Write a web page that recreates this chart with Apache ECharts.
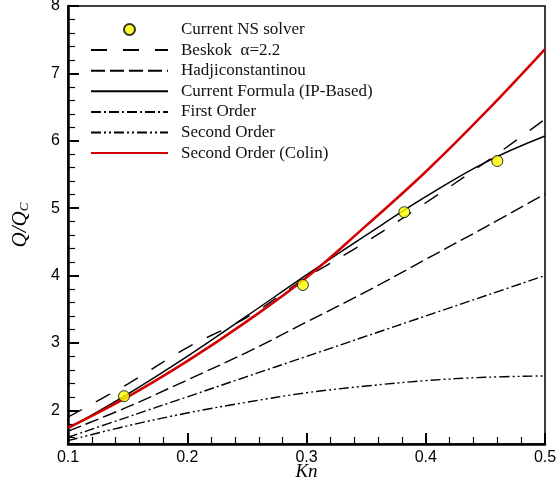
<!DOCTYPE html>
<html>
<head>
<meta charset="utf-8">
<script src="https://cdn.jsdelivr.net/npm/echarts@6/dist/echarts.min.js"></script>
<style>html,body{margin:0;padding:0;background:#fff}#c{width:559px;height:483px}</style>
</head>
<body>
<div id="c"></div>
<script>
var kn = [0.1, 0.15, 0.2, 0.25, 0.3, 0.35, 0.4, 0.45, 0.5];
var beskok = [1.90, 2.39, 2.93, 3.38, 3.97, 4.50, 5.08, 5.68, 6.32];
var hadji = [1.69, 2.05, 2.45, 2.86, 3.31, 3.76, 4.24, 4.72, 5.21];
var currentFormula = [1.73, 2.24, 2.80, 3.40, 4.01, 4.60, 5.17, 5.68, 6.07];
var firstOrder = [1.60, 1.90, 2.20, 2.50, 2.80, 3.10, 3.40, 3.70, 4.00];
var secondOrder = [1.55, 1.77, 1.96, 2.12, 2.26, 2.36, 2.44, 2.49, 2.51];
var colin = [1.74, 2.20, 2.73, 3.32, 3.97, 4.74, 5.54, 6.42, 7.36];
var nsKn = [0.147, 0.297, 0.382, 0.460];
var nsQ = [2.21, 3.86, 4.94, 5.70];
var names = ['Current NS solver', 'Beskok  \u03b1=2.2', 'Hadjiconstantinou', 'Current Formula (IP-Based)', 'First Order', 'Second Order', 'Second Order (Colin)'];

function pairs(xs, ys) { return xs.map(function (x, i) { return [x, ys[i]]; }); }
var clear = 'rgba(0,0,0,0)';
function lineSeries(name, ys, color, width, type) {
  return {
    name: name, type: 'line', data: pairs(kn, ys), symbol: 'none', showSymbol: false,
    smooth: 0.4, z: 3,
    lineStyle: { color: color, width: width, type: type },
    itemStyle: { color: clear, borderColor: clear, borderWidth: 0 }
  };
}
var chart = echarts.init(document.getElementById('c'), null, { renderer: 'canvas' });
var serif = 'Liberation Serif, Times New Roman, serif';
var sans = 'Liberation Sans, Arial, sans-serif';
var legendData = names.map(function (n, i) {
  return i === 0 ? { name: n } : { name: n, itemStyle: { color: clear, borderColor: clear, borderWidth: 0 } };
});
chart.setOption({
  animation: false,
  backgroundColor: '#fff',
  grid: { left: 68, right: 14, top: 6, bottom: 39, show: true, borderColor: '#000', borderWidth: 1.5,
    backgroundColor: 'transparent', containLabel: false, outerBoundsMode: 'none' },
  legend: {
    orient: 'vertical', left: 85, top: 16, padding: 5, itemWidth: 77, itemHeight: 11, itemGap: 3.6,
    textStyle: { fontFamily: serif, fontSize: 17, color: '#111', padding: [0, 0, 0, 8] },
    data: legendData
  },
  xAxis: {
    type: 'value', min: 0.1, max: 0.5, interval: 0.1,
    name: 'Kn', nameLocation: 'middle', nameGap: 18, nameMoveOverlap: false,
    nameTextStyle: { fontFamily: serif, fontStyle: 'italic', fontSize: 19, color: '#000', verticalAlign: 'top' },
    axisLine: { lineStyle: { color: '#000', width: 2.5 } },
    axisTick: { inside: true, length: 11, lineStyle: { color: '#000', width: 2 } },
    minorTick: { show: true, splitNumber: 5, length: 7, lineStyle: { color: '#000', width: 1.2 } },
    splitLine: { show: false },
    axisLabel: { fontFamily: sans, fontSize: 16, color: '#000', margin: 6, formatter: function (v) { return v.toFixed(1); } }
  },
  yAxis: {
    type: 'value', min: 1.5, max: 8, splitNumber: 6, minInterval: 1, maxInterval: 1,
    name: '{i|Q/Q}{s|C}', nameLocation: 'middle', nameGap: 37, nameRotate: 90, nameMoveOverlap: false,
    nameTextStyle: {
      rich: {
        i: { fontFamily: serif, fontStyle: 'italic', fontSize: 21, color: '#000' },
        s: { fontFamily: serif, fontStyle: 'italic', fontSize: 13, color: '#000', verticalAlign: 'bottom', padding: [8, 0, 0, 0] }
      }
    },
    axisLine: { lineStyle: { color: '#000', width: 2.5 } },
    axisTick: { inside: true, length: 11, lineStyle: { color: '#000', width: 2 } },
    minorTick: { show: true, splitNumber: 5, length: 7, lineStyle: { color: '#000', width: 1.2 } },
    splitLine: { show: false },
    axisLabel: { fontFamily: sans, fontSize: 16, color: '#000', margin: 8,
      formatter: function (v) { return Math.abs(v - Math.round(v)) < 1e-9 ? String(Math.round(v)) : ''; } }
  },
  series: [
    { name: names[0], type: 'scatter', data: pairs(nsKn, nsQ), symbol: 'circle', symbolSize: 11, z: 5,
      itemStyle: { color: '#ffff00', borderColor: '#000', borderWidth: 1 } },
    lineSeries(names[1], beskok, '#000', 1.4, [16, 16]),
    lineSeries(names[2], hadji, '#000', 1.4, [14, 5]),
    lineSeries(names[3], currentFormula, '#000', 1.5, 'solid'),
    lineSeries(names[4], firstOrder, '#000', 1.4, [10, 3, 2, 3]),
    lineSeries(names[5], secondOrder, '#000', 1.4, [10, 3, 2, 3, 2, 3]),
    lineSeries(names[6], colin, '#d40000', 2.5, 'solid')
  ]
});
</script>
</body>
</html>
